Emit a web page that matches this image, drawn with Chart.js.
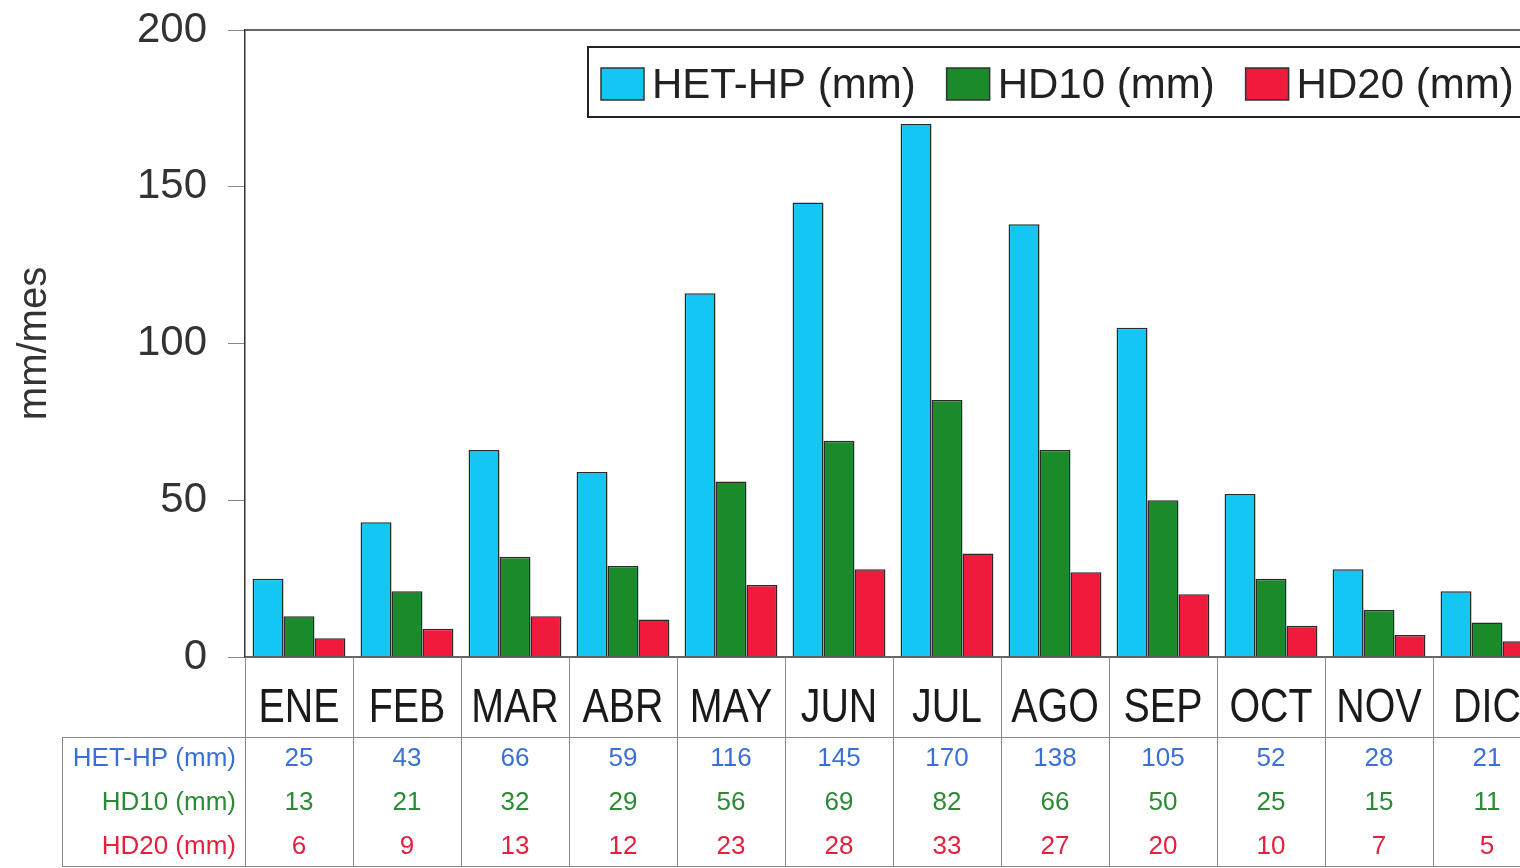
<!DOCTYPE html>
<html>
<head>
<meta charset="utf-8">
<script src="https://cdn.jsdelivr.net/npm/chart.js@4/dist/chart.umd.min.js"></script>
<style>
  html, body { margin: 0; padding: 0; background: #fff; overflow: hidden; }
  #wrap { width: 1545px; height: 868px; }
</style>
</head>
<body>
<div id="wrap"><canvas id="c" width="1545" height="868"></canvas></div>
<script>
// --- datos ---
const meses = ['ENE', 'FEB', 'MAR', 'ABR', 'MAY', 'JUN', 'JUL', 'AGO', 'SEP', 'OCT', 'NOV', 'DIC'];
const hetHP = [25, 43, 66, 59, 116, 145, 170, 138, 105, 52, 28, 21];
const hd10  = [13, 21, 32, 29, 56, 69, 82, 66, 50, 25, 15, 11];
const hd20  = [6, 9, 13, 12, 23, 28, 33, 27, 20, 10, 7, 5];
const yTicks = [0, 50, 100, 150, 200];

const series = [
    { label: 'HET-HP (mm)', data: hetHP, color: '#14c6f4', text: '#3a6fd8' },
    { label: 'HD10 (mm)',   data: hd10,  color: '#1b8a2b', text: '#2b8a35' },
    { label: 'HD20 (mm)',   data: hd20,  color: '#f01a3c', text: '#e61f3f' }
];

const FONT = '"Liberation Sans", Arial, Helvetica, sans-serif';

// tabla de datos + marco + leyenda
const tablaPlugin = {
    id: 'tabla',
    afterDraw(chart) {
        const ctx = chart.ctx;
        const x = chart.scales.x;
        const area = chart.chartArea;
        const w = (x.right - x.left) / meses.length;
        const yTop = area.bottom;
        const yLine = 737;
        const yBottom = 866;
        const tableLeft = 62;

        ctx.save();

        // marco superior y linea de cero
        ctx.strokeStyle = '#333';
        ctx.lineWidth = 1.5;
        ctx.beginPath();
        ctx.moveTo(area.left, area.top); ctx.lineTo(area.right, area.top);
        ctx.moveTo(area.left, area.bottom); ctx.lineTo(area.right, area.bottom);
        ctx.stroke();

        // lineas de la tabla
        ctx.strokeStyle = '#888';
        ctx.lineWidth = 1;
        ctx.beginPath();
        for (let i = 0; i <= meses.length; i++) {
            const px = Math.round(x.left + i * w) + 0.5;
            ctx.moveTo(px, yTop); ctx.lineTo(px, yBottom);
        }
        ctx.moveTo(tableLeft, yLine + 0.5); ctx.lineTo(area.right, yLine + 0.5);
        ctx.moveTo(tableLeft, yBottom + 0.5); ctx.lineTo(area.right, yBottom + 0.5);
        ctx.moveTo(tableLeft + 0.5, yLine); ctx.lineTo(tableLeft + 0.5, yBottom);
        ctx.stroke();

        // meses (letra estrecha: se comprime en horizontal)
        ctx.fillStyle = '#1a1a1a';
        ctx.font = '48px ' + FONT;
        ctx.textAlign = 'center';
        ctx.textBaseline = 'middle';
        meses.forEach((m, i) => {
            ctx.save();
            ctx.translate(x.getPixelForValue(i), 709);
            ctx.scale(0.82, 1);
            ctx.fillText(m, 0, 0);
            ctx.restore();
        });

        // filas de valores
        const rowsY = [759, 803, 847];
        series.forEach((s, r) => {
            ctx.fillStyle = s.text;
            ctx.font = '26px ' + FONT;
            ctx.textAlign = 'right';
            ctx.fillText(s.label, 236, rowsY[r]);
            ctx.textAlign = 'center';
            s.data.forEach((v, i) => ctx.fillText(String(v), x.getPixelForValue(i), rowsY[r]));
        });

        // leyenda
        const lx = 588, ly = 47, lh = 70;
        ctx.fillStyle = '#fff';
        ctx.fillRect(lx, ly, area.right - 12 - lx, lh);
        ctx.strokeStyle = '#222';
        ctx.lineWidth = 2;
        ctx.strokeRect(lx, ly, area.right - 12 - lx, lh);
        ctx.font = '42px ' + FONT;
        ctx.textAlign = 'left';
        let cx = 601;
        series.forEach(s => {
            ctx.fillStyle = s.color;
            ctx.fillRect(cx, 68, 43, 32);
            ctx.strokeStyle = '#333';
            ctx.lineWidth = 1.5;
            ctx.strokeRect(cx, 68, 43, 32);
            ctx.fillStyle = '#222';
            ctx.fillText(s.label, cx + 51, 86);
            cx += 51 + ctx.measureText(s.label).width + 31;
        });

        ctx.restore();
    }
};

new Chart(document.getElementById('c'), {
    type: 'bar',
    data: {
        labels: meses,
        datasets: series.map(s => ({
            label: s.label,
            data: s.data,
            backgroundColor: s.color,
            borderColor: '#2a2a2a',
            borderWidth: 1.5,
            categoryPercentage: 0.86,
            barPercentage: 1.0
        }))
    },
    options: {
        responsive: false,
        animation: false,
        devicePixelRatio: 1,
        layout: { padding: { left: 0, top: 30, right: 4, bottom: 211 } },
        plugins: {
            legend: { display: false },
            tooltip: { enabled: false }
        },
        scales: {
            x: { display: false },
            y: {
                min: 0,
                max: 200,
                afterFit(scale) {
                    scale.width = 245;
                    scale.paddingTop = 0;
                    scale.paddingBottom = 0;
                },
                afterBuildTicks(scale) { scale.ticks = yTicks.map(v => ({ value: v })); },
                ticks: {
                    font: { size: 42, family: FONT },
                    color: '#333',
                    padding: 21
                },
                grid: {
                    drawOnChartArea: false,
                    drawTicks: true,
                    tickLength: 17,
                    color: '#888'
                },
                border: { display: true, color: '#333', width: 1.5 },
                title: {
                    display: true,
                    text: 'mm/mes',
                    font: { size: 40, family: FONT },
                    color: '#333',
                    padding: { top: 11, bottom: 0 }
                }
            }
        }
    },
    plugins: [tablaPlugin]
});
</script>
</body>
</html>
